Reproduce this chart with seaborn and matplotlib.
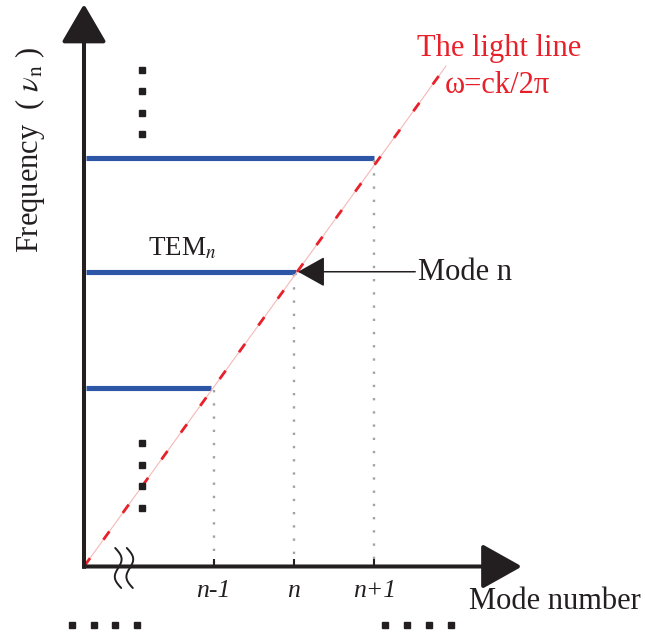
import numpy as np
import pandas as pd
import matplotlib
matplotlib.use("Agg")
import matplotlib.pyplot as plt
import seaborn as sns

# ---- data -------------------------------------------------------------
mode_labels = ["n-1", "n", "n+1"]            # longitudinal mode index labels
mode_pos = [1.62, 2.62, 3.63]                # position of each mode on the k axis
level_freq = [1.555, 2.563, 3.555]           # resonance frequency of each TEM mode
level_end = [1.59, 2.65, 3.62]               # where each frequency level stops
light_k = [0.0, 4.525]                       # light line  omega = c k / 2 pi
light_w = [0.0, 4.352]

# ellipsis markers (continuation of the ladder / axis)
vdots_x = [0.725] * 4
vdots_top_y = [4.317, 4.134, 3.943, 3.760]
vdots_low_y = [1.074, 0.883, 0.700, 0.509]
hdots_left_x = [-0.150, 0.125, 0.388, 0.663]
hdots_right_x = [3.763, 4.038, 4.313, 4.588]
hdots_y = [-0.509] * 4

# ---- style ------------------------------------------------------------
sns.set_theme(style="white")
plt.rcParams["font.family"] = ["Liberation Serif", "DejaVu Serif"]
plt.rcParams["mathtext.fontset"] = "stix"

INK = "#231F20"
BLUE = "#2D56A6"
RED = "#E8202A"
PINK = "#F6B8B8"
GREY = "#A3A3A3"

fig = plt.figure(figsize=(6.45, 6.35), dpi=100)
ax = fig.add_axes([0, 0, 1, 1])
ax.set_xlim(-1.05, 7.0125)
ax.set_ylim(-0.5957, 4.926)
ax.axis("off")

# ---- frequency levels (TEM modes) --------------------------------------
levels = pd.DataFrame({
    "k": [v for e in level_end for v in (0.02, e)],
    "f": [v for f in level_freq for v in (f, f)],
    "level": [i for i in range(len(level_freq)) for _ in range(2)],
})
sns.lineplot(data=levels, x="k", y="f", units="level", estimator=None,
             color=BLUE, lw=3.7, ax=ax, solid_capstyle="butt", legend=False)

# ---- dotted projections onto the mode axis -----------------------------
for x, f in zip(mode_pos, level_freq):
    ax.plot([x, x], [f - 0.02, 0.03], color=GREY, lw=1.7,
            dashes=(1, 4.6), dash_capstyle="butt")

# ---- light line -------------------------------------------------------
light = pd.DataFrame({"k": light_k, "w": light_w})
sns.lineplot(data=light, x="k", y="w", color=PINK, lw=0.8, ax=ax)
sns.lineplot(data=light, x="k", y="w", color=RED, lw=2.0, ax=ax)
ax.lines[-1].set_dashes((3.7, 8.2))
ax.lines[-1].set_dash_capstyle("butt")

# ---- axes with arrow heads --------------------------------------------
ax.annotate("", xy=(0, 4.891), xytext=(0, -0.02),
            arrowprops=dict(arrowstyle="-|>,head_length=24,head_width=14",
                            mutation_scale=1, lw=2.9, color=INK,
                            shrinkA=0, shrinkB=0, capstyle="butt"))
ax.annotate("", xy=(5.475, 0), xytext=(-0.02, 0),
            arrowprops=dict(arrowstyle="-|>,head_length=25,head_width=14",
                            mutation_scale=1, lw=2.9, color=INK,
                            shrinkA=0, shrinkB=0, capstyle="butt"))

# ticks at the mode positions
for x in mode_pos:
    ax.plot([x, x], [0, 0.065], color=INK, lw=1.5, solid_capstyle="butt")
for x, lab in zip(mode_pos, mode_labels):
    ax.text(x, -0.265, lab, ha="center", va="baseline", fontsize=18.5,
            fontstyle="italic", color=INK)

# axis break mark: two slanted wavy strokes
t = np.linspace(0, 1, 60)
for x0 in (0.39, 0.535):
    ax.plot(x0 + 0.075 * t + 0.06 * np.sin(2 * np.pi * t), 0.161 - 0.348 * t,
            color=INK, lw=1.4)

# ellipsis dots
for xs, ys in ((vdots_x, vdots_top_y), (vdots_x, vdots_low_y),
               (hdots_left_x, hdots_y), (hdots_right_x, hdots_y)):
    ax.plot(xs, ys, ls="none", marker="s", ms=3.8, color=INK)

# ---- annotations ------------------------------------------------------
ax.annotate("", xy=(2.675, level_freq[1]), xytext=(4.14, level_freq[1]),
            arrowprops=dict(arrowstyle="-|>,head_length=17,head_width=9.5",
                            mutation_scale=1, lw=1.1, color=INK,
                            shrinkA=0, shrinkB=0))
ax.text(4.175, 2.491, "Mode n", fontsize=22, color=INK, va="baseline")
ax.text(0.80, 2.709, r"TEM$_{n}$", fontsize=19.5, color=INK, va="baseline")
ax.text(4.158, 4.439, "The light line", fontsize=22, color=RED, va="baseline")
ax.text(4.5125, 4.117, "ω=ck/2π", fontsize=22, color=RED, va="baseline")
ax.text(4.8125, -0.3696, "Mode number", fontsize=22, color=INK, va="baseline")
ax.text(-0.68, 3.622, r"Frequency  ( $\nu_{\mathrm{n}}$ )", fontsize=22,
        color=INK, rotation=90, ha="center", va="center")

fig.savefig("out.png", dpi=100)
